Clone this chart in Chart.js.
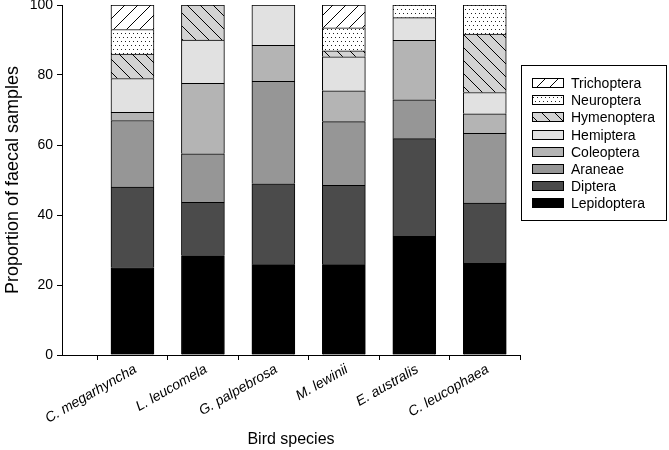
<!DOCTYPE html>
<html><head><meta charset="utf-8">
<script src="https://cdn.jsdelivr.net/npm/chart.js@4/dist/chart.umd.min.js"></script>
<style>html,body{margin:0;padding:0;background:#fff}#wrap{width:669px;height:450px}</style>
</head><body><div id="wrap"><canvas id="c" width="669" height="450"></canvas></div>
<script>
const species = ['C. megarhyncha','L. leucomela','G. palpebrosa','M. lewinii','E. australis','C. leucophaea'];
const lepidoptera = [25.0, 28.4, 25.8, 25.8, 33.9, 26.2];
const diptera     = [23.0, 15.2, 23.1, 22.7, 27.9, 17.2];
const araneae     = [19.0, 13.9, 29.3, 18.2, 11.1, 19.9];
const coleoptera  = [2.3, 20.1, 10.3, 8.8, 17.0, 5.6];
const hemiptera   = [9.7, 12.4, 11.5, 9.7, 6.5, 6.1];
const hymenoptera = [7.0, 10.0, 0, 1.7, 0, 16.7];
const neuroptera  = [7.0, 0, 0, 6.6, 3.6, 8.3];
const trichoptera = [7.0, 0, 0, 6.5, 0, 0];
const yTicks = [0, 20, 40, 60, 80, 100];

function hatch(bg, dir, step){
  const c=document.createElement('canvas'); c.width=step; c.height=step;
  const x=c.getContext('2d'); x.fillStyle=bg; x.fillRect(0,0,step,step);
  x.strokeStyle='#000'; x.lineWidth=1; x.beginPath();
  if(dir>0){ x.moveTo(-1,step+1); x.lineTo(step+1,-1); x.moveTo(-2,2); x.lineTo(2,-2); x.moveTo(step-2,step+2); x.lineTo(step+2,step-2); }
  else { x.moveTo(-1,-1); x.lineTo(step+1,step+1); x.moveTo(-2,step-2); x.lineTo(2,step+2); x.moveTo(step-2,-2); x.lineTo(step+2,2); }
  x.stroke(); return x.createPattern(c,'repeat');
}
function dots(){
  const c=document.createElement('canvas'); c.width=8; c.height=8;
  const x=c.getContext('2d'); x.fillStyle='#fff'; x.fillRect(0,0,8,8);
  x.fillStyle='#222'; [[1,1],[5,1],[3,5],[7,5]].forEach(p=>x.fillRect(p[0],p[1],1,1));
  return x.createPattern(c,'repeat');
}
const series = [
  ['Lepidoptera', lepidoptera, '#000000'],
  ['Diptera', diptera, '#4b4b4b'],
  ['Araneae', araneae, '#969696'],
  ['Coleoptera', coleoptera, '#b4b4b4'],
  ['Hemiptera', hemiptera, '#e1e1e1'],
  ['Hymenoptera', hymenoptera, hatch('#d3d3d3', -1, 13)],
  ['Neuroptera', neuroptera, dots()],
  ['Trichoptera', trichoptera, hatch('#ffffff', 1, 13)]
];
Chart.defaults.font.family = '"Liberation Sans", Arial, sans-serif';
Chart.defaults.color = '#000';

const boxLegend = {
  id:'boxLegend',
  afterDraw(chart){
    const ctx=chart.ctx; const ds=chart.data.datasets.slice().reverse();
    ctx.save(); ctx.strokeStyle='#000'; ctx.lineWidth=1;
    ctx.strokeRect(521.5, 65.5, 145, 155);
    ctx.font='14px "Liberation Sans", Arial, sans-serif'; ctx.textBaseline='middle';
    ds.forEach((d,i)=>{
      const cy = Math.round(83 + i*17.2);
      ctx.fillStyle=d.backgroundColor; ctx.fillRect(532, cy-5, 32, 10);
      ctx.strokeRect(532.5, cy-4.5, 31, 9);
      ctx.fillStyle='#000'; ctx.fillText(d.label, 571, cy+1);
    });
    ctx.restore();
  }
};

new Chart(document.getElementById('c'), {
  type:'bar',
  data:{ datasets: series.map(s=>({
    label:s[0], data:s[1].map((v,i)=>({x:i,y:v})), backgroundColor:s[2],
    borderColor:'#000', borderWidth:1, barThickness:43
  }))},
  options:{
    responsive:false, animation:false, devicePixelRatio:1,
    layout:{padding:{top:5,right:149,bottom:0,left:0}},
    plugins:{legend:{display:false}, tooltip:{enabled:false}},
    scales:{
      x:{ type:'linear', min:-1, max:5.5, stacked:true, offset:false,
        grid:{drawOnChartArea:false, drawTicks:true, tickLength:5, color:'#000'},
        border:{display:true, color:'#000', width:1},
        ticks:{stepSize:1, autoSkip:false, maxRotation:30, minRotation:30, padding:1, labelOffset:3,
          font:{size:14, style:'italic'}, color:'#000',
          callback:(v)=> species[v] !== undefined ? species[v] : ''},
        afterBuildTicks:(s)=>{ s.ticks = species.map((n,i)=>({value:i})); },
        afterFit:(s)=>{ s.height = 95; s.paddingLeft=0; s.paddingRight=0; },
        title:{display:true, text:'Bird species', font:{size:16}, color:'#000', padding:{top:0,bottom:1}}
      },
      y:{ min:0, max:100, stacked:true,
        grid:{drawOnChartArea:false, drawTicks:true, tickLength:5, color:'#000'},
        border:{display:true, color:'#000', width:1},
        ticks:{font:{size:14}, color:'#000', padding:4},
        afterBuildTicks:(s)=>{ s.ticks = yTicks.map(v=>({value:v})); },
        afterFit:(s)=>{ s.width = 62; s.paddingTop=0; s.paddingBottom=0; },
        title:{display:true, text:'Proportion of faecal samples', font:{size:18}, color:'#000', padding:{top:2,bottom:0}}
      }
    }
  },
  plugins:[boxLegend]
});
</script></body></html>
